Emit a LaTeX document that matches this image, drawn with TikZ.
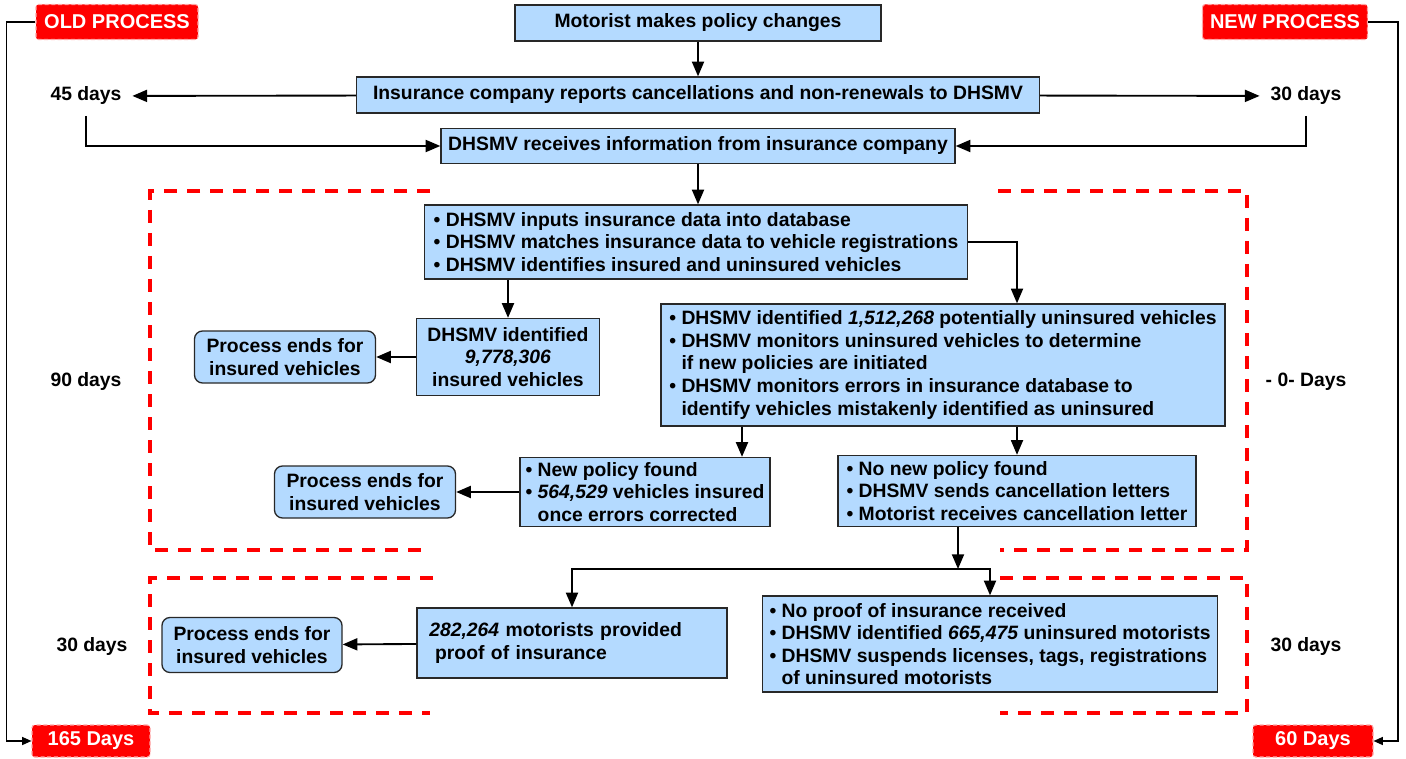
\documentclass[tikz,border=0pt]{standalone}
\usepackage{fontspec}
\setmainfont{Liberation Sans}
\usetikzlibrary{arrows.meta}
\definecolor{boxblue}{RGB}{180,218,255}
\definecolor{tagred}{RGB}{255,0,0}
\definecolor{edge}{RGB}{40,40,40}

\begin{document}
\begin{tikzpicture}[x=0.75pt,y=-0.75pt]
    \tikzset{%
      txt/.style={font=\fontsize{14.5}{16.9}\selectfont\bfseries},
      box/.style={txt, draw=edge, line width=1pt, fill=boxblue, inner sep=2pt,
        align=left},
      endbox/.style={box, rounded corners=6pt, align=center},
      boxsize/.style 2 args={minimum width=#1*0.75pt, minimum height=#2*0.75pt},
      lbl/.style={txt, inner sep=8pt},
      tag/.style={font=\fontsize{15}{18}\selectfont\bfseries, text=white,
        fill=tagred, draw=red!35, densely dashed, line width=0.8pt,
        rounded corners=2pt, inner sep=0pt},
      arr/.style={-{Triangle[length=11pt,width=9pt]}, line width=1.4pt},
      smallarr/.style={-{Triangle[length=7pt,width=6pt]}, line width=1pt},
      redframe/.style={red, line width=3pt, dash pattern=on 9.75pt off 7.5pt},
    }
    \useasboundingbox (0,0) rectangle (1406,759);
    % dashed frames
    \draw [redframe] (430,191) -- (150,191) -- (150,550) -- (428,550);
    \draw [redframe] (998,191) -- (1247,191) -- (1247,550) -- (1000,550);
    \draw [redframe] (433,578) -- (150,578) -- (150,713) -- (430,713);
    \draw [redframe] (1000,578) -- (1247,578) -- (1247,713) -- (1000,713);

    % process tags
    \node[tag, boxsize={162}{35}] (oldtag) at (117,22) {OLD PROCESS};
    \node[tag, boxsize={165}{35}] (newtag) at (1285,22) {NEW PROCESS};
    \node[tag, boxsize={118}{32}] (tag165) at (91,741) {165 Days};
    \node[tag, boxsize={120}{32}] (tag60) at (1313,741) {60 Days};

    % day labels
    \node[lbl] (d45) at (86,96) {45 days};
    \node[lbl] (d30a) at (1306,96) {30 days};
    \node[lbl] (d90) at (86,382) {90 days};
    \node[lbl] (d0) at (1306,382) {- 0- Days};
    \node[lbl] (d30b) at (92,646) {30 days};
    \node[lbl] (d30c) at (1306,646) {30 days};

    % top of the chain
    \node[box, align=center, boxsize={366}{36}] (motorist) at (698,23)
      {Motorist makes policy changes};
    \node[box, align=center, boxsize={683}{36}] (ins) at (698,95)
      {Insurance company reports cancellations and non-renewals to DHSMV};
    \node[box, align=center, boxsize={514}{35}] (recv) at (698,146)
      {DHSMV receives information from insurance company};

    % matching
    \node[box, boxsize={543}{74}] (input) at (696,242)
      {\textbullet\ DHSMV inputs insurance data into database\\
       \textbullet\ DHSMV matches insurance data to vehicle registrations\\
       \textbullet\ DHSMV identifies insured and uninsured vehicles};
    \node[box, align=center, boxsize={183}{77}] (insured) at (508,357)
      {DHSMV identified\\\textit{9,778,306}\\insured vehicles};
    \node[endbox, boxsize={181}{52}] (end1) at (285,357)
      {Process ends for\\insured vehicles};
    \node[box, boxsize={564}{122}] (unins) at (943,365)
      {\textbullet\ DHSMV identified \textit{1,512,268} potentially uninsured vehicles\\
       \textbullet\ DHSMV monitors uninsured vehicles to determine\\
       \hphantom{\textbullet\ }if new policies are initiated\\
       \textbullet\ DHSMV monitors errors in insurance database to\\
       \hphantom{\textbullet\ }identify vehicles mistakenly identified as uninsured};
    \node[box, boxsize={250}{69}] (newpol) at (645,492)
      {\textbullet\ New policy found\\
       \textbullet\ \textit{564,529} vehicles insured\\
       \hphantom{\textbullet\ }once errors corrected};
    \node[endbox, boxsize={181}{52}] (end2) at (365,492)
      {Process ends for\\insured vehicles};
    \node[box, boxsize={358}{71}] (nopol) at (1017,491)
      {\textbullet\ No new policy found\\
       \textbullet\ DHSMV sends cancellation letters\\
       \textbullet\ Motorist receives cancellation letter};

    % suspension
    \node[box, boxsize={310}{70}, text width=214pt] (proof) at (572,643)
      {\textit{282,264} motorists provided\\
       \hspace*{0.3em}proof of insurance};
    \node[endbox, boxsize={180}{55}] (end3) at (252,645)
      {Process ends for\\insured vehicles};
    \node[box, boxsize={455}{96}] (noproof) at (990,644)
      {\textbullet\ No proof of insurance received\\
       \textbullet\ DHSMV identified \textit{665,475} uninsured motorists\\
       \textbullet\ DHSMV suspends licenses, tags, registrations\\
       \hphantom{\textbullet\ }of uninsured motorists};

    \coordinate (split) at (742,440);
    \coordinate (fork) at (958,569);

    % connectors
    \draw[arr] (motorist) -- (ins);
    \draw[arr] (ins) -- (d45);
    \draw[arr] (ins) -- (d30a);
    \draw[arr] (d45) |- (recv);
    \draw[arr] (d30a) |- (recv);
    \draw[arr] (recv) -- (recv.south |- input.north);
    \draw[arr] (input.south -| insured.north) -- (insured);
    \draw[arr] (insured) -- (end1);
    \draw[arr] (input.east) -| (unins.north -| nopol.north);
    \draw[arr] (unins.south -| split) -- (newpol.north -| split);
    \draw[arr] (unins.south -| nopol.north) -- (nopol);
    \draw[arr] (newpol) -- (end2);
    \draw[arr] (nopol.south -| fork) -- (fork);
    \draw[arr] (fork) -| (proof.north);
    \draw[arr] (fork) -| (noproof.north);
    \draw[arr] (proof) -- (end3);
    \draw[smallarr] (oldtag.west) -- ++(-29,0) |- (tag165.west);
    \draw[smallarr] (newtag.east) -- ++(30,0) |- (tag60.east);
\end{tikzpicture}
\end{document}
